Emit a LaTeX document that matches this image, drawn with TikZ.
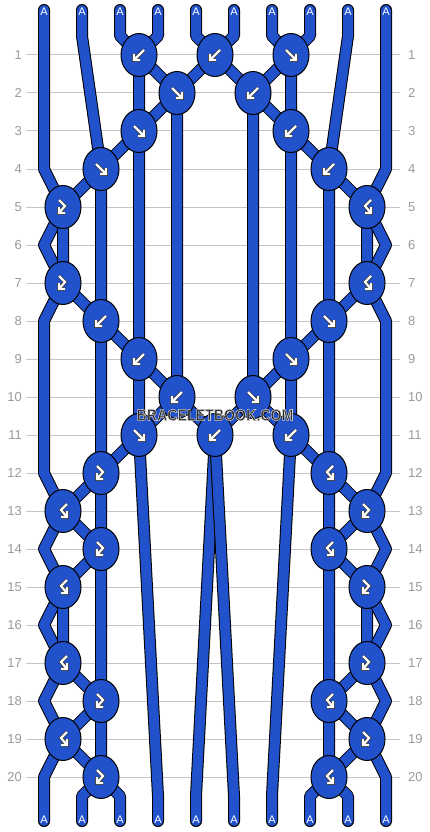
\documentclass[tikz,border=0pt]{standalone}
\usepackage{fontspec}
\setmainfont{Liberation Sans}
\usetikzlibrary{shapes.geometric}
\definecolor{strand}{HTML}{2152CC}
\definecolor{gridc}{HTML}{C4C4C4}
\definecolor{labc}{HTML}{9A9A9A}
\definecolor{wmtext}{HTML}{2E2E2E}
\pgfdeclarelayer{bg}
\pgfsetlayers{bg,main}
\tikzset{
  knot/.style={ellipse, draw=black, line width=1pt, fill=strand, minimum width=36pt, minimum height=43pt, inner sep=0pt},
  sout/.style={draw=black, line width=12pt, line cap=round, line join=round},
  sin/.style={draw=strand, line width=10pt, line cap=round, line join=round},
  gridline/.style={draw=gridc, line width=1pt},
  rowlab/.style={text=labc, font=\fontsize{13}{13}\selectfont, inner sep=0pt},
  alab/.style={text=white, font=\fontsize{11}{11}\selectfont, inner sep=0pt},
  wm/.style={font=\bfseries\fontsize{16.5}{16.5}\selectfont, inner sep=0pt, xscale=0.86},
  arwo/.style={draw=black!80, line width=3.8pt, line join=miter, line cap=butt},
  arwi/.style={draw=white, line width=2.2pt, line join=miter, line cap=butt},
  pics/fw/.style={code={
    \draw[arwo] (-5,-5)--(5,5) (-1,5)--(5,5)--(5,-1);
    \draw[arwi] (-5,-5)--(5,5) (-1,5)--(5,5)--(5,-1);}},
  pics/bw/.style={code={
    \draw[arwo] (5,-5)--(-5,5) (1,5)--(-5,5)--(-5,-1);
    \draw[arwi] (5,-5)--(-5,5) (1,5)--(-5,5)--(-5,-1);}},
  pics/fbk/.style={code={
    \draw[arwo] (-4,-7)--(2,-1)--(-4,6) (-4,0)--(-4,6)--(2,6);
    \draw[arwi] (-4,-7)--(2,-1)--(-4,6) (-4,0)--(-4,6)--(2,6);}},
  pics/bfk/.style={code={
    \draw[arwo] (4,-7)--(-2,-1)--(4,6) (4,0)--(4,6)--(-2,6);
    \draw[arwi] (4,-7)--(-2,-1)--(4,6) (4,0)--(4,6)--(-2,6);}},
}
\newcommand\strandline[1]{\draw[sout] #1; \draw[sin] #1;}
\newcommand\halotext[1]{\special{pdf:literal direct 2 Tr 0.6 w 0.8 0.8 0.8 RG}#1\special{pdf:literal direct 0 Tr}}
\begin{document}
\begin{tikzpicture}[x=1pt,y=-1pt]
\useasboundingbox (0,0) rectangle (430,832);
% positions
\foreach \i in {0,...,9} {
  \pgfmathsetmacro\xx{44+38*\i}
  \coordinate (t\i) at (\xx,10);
  \coordinate (s\i) at (\xx,36);
  \coordinate (e\i) at (\xx,796);
  \coordinate (u\i) at (\xx,821);
}
\foreach \r in {2,4,...,20} {
  \pgfmathsetmacro\yy{17+38*\r}
  \coordinate (l\r) at (44,\yy);
  \coordinate (r\r) at (386,\yy);
}
% knots
\node[knot] (k1c) at (139,55) {};  \pic at (k1c.center) {bw};
\node[knot] (k1e) at (215,55) {};  \pic at (k1e.center) {bw};
\node[knot] (k1g) at (291,55) {};  \pic at (k1g.center) {fw};
\node[knot] (k2d) at (177,93) {};  \pic at (k2d.center) {fw};
\node[knot] (k2f) at (253,93) {};  \pic at (k2f.center) {bw};
\node[knot] (k3c) at (139,131) {}; \pic at (k3c.center) {fw};
\node[knot] (k3g) at (291,131) {}; \pic at (k3g.center) {bw};
\node[knot] (k4b) at (101,169) {}; \pic at (k4b.center) {fw};
\node[knot] (k4h) at (329,169) {}; \pic at (k4h.center) {bw};
\node[knot] (k5a) at (63,207) {};  \pic at (k5a.center) {fbk};
\node[knot] (k5i) at (367,207) {}; \pic at (k5i.center) {bfk};
\node[knot] (k7a) at (63,283) {};  \pic at (k7a.center) {fbk};
\node[knot] (k7i) at (367,283) {}; \pic at (k7i.center) {bfk};
\node[knot] (k8b) at (101,321) {}; \pic at (k8b.center) {bw};
\node[knot] (k8h) at (329,321) {}; \pic at (k8h.center) {fw};
\node[knot] (k9c) at (139,359) {}; \pic at (k9c.center) {bw};
\node[knot] (k9g) at (291,359) {}; \pic at (k9g.center) {fw};
\node[knot] (k10d) at (177,397) {}; \pic at (k10d.center) {bw};
\node[knot] (k10f) at (253,397) {}; \pic at (k10f.center) {fw};
\node[knot] (k11c) at (139,435) {}; \pic at (k11c.center) {fw};
\node[knot] (k11e) at (215,435) {}; \pic at (k11e.center) {bw};
\node[knot] (k11g) at (291,435) {}; \pic at (k11g.center) {bw};
\node[knot] (k12b) at (101,473) {}; \pic at (k12b.center) {fbk};
\node[knot] (k12h) at (329,473) {}; \pic at (k12h.center) {bfk};
\node[knot] (k13a) at (63,511) {};  \pic at (k13a.center) {bfk};
\node[knot] (k13i) at (367,511) {}; \pic at (k13i.center) {fbk};
\node[knot] (k14b) at (101,549) {}; \pic at (k14b.center) {fbk};
\node[knot] (k14h) at (329,549) {}; \pic at (k14h.center) {bfk};
\node[knot] (k15a) at (63,587) {};  \pic at (k15a.center) {bfk};
\node[knot] (k15i) at (367,587) {}; \pic at (k15i.center) {fbk};
\node[knot] (k17a) at (63,663) {};  \pic at (k17a.center) {bfk};
\node[knot] (k17i) at (367,663) {}; \pic at (k17i.center) {fbk};
\node[knot] (k18b) at (101,701) {}; \pic at (k18b.center) {fbk};
\node[knot] (k18h) at (329,701) {}; \pic at (k18h.center) {bfk};
\node[knot] (k19a) at (63,739) {};  \pic at (k19a.center) {bfk};
\node[knot] (k19i) at (367,739) {}; \pic at (k19i.center) {fbk};
\node[knot] (k20b) at (101,777) {}; \pic at (k20b.center) {fbk};
\node[knot] (k20h) at (329,777) {}; \pic at (k20h.center) {bfk};
% background: grid, labels, strands
\begin{pgfonlayer}{bg}
\foreach \r in {1,...,20} {
  \pgfmathsetmacro\yy{17+38*\r}
  \draw[gridline] (26,\yy) -- (400,\yy);
  \node[rowlab, anchor=east] (ll\r) at (22,\yy) {\r};
  \node[rowlab, anchor=west] (rl\r) at (408,\yy) {\r};
}
\strandline{(t0)--(s0)--(l2)--(l4)--(k5a.center)--(l6)--(k7a.center)--(l8)--(l10)--(l12)--(k13a.center)--(l14)--(k15a.center)--(l16)--(k17a.center)--(l18)--(k19a.center)--(l20)--(e0)--(u0)}
\strandline{(t1)--(s1)--(k4b.center)--(k5a.center)--(k7a.center)--(k8b.center)--(k12b.center)--(k13a.center)--(k14b.center)--(k15a.center)--(k17a.center)--(k18b.center)--(k19a.center)--(k20b.center)--(e1)--(u1)}
\strandline{(t2)--(s2)--(k1c.center)--(k3c.center)--(k4b.center)--(k8b.center)--(k9c.center)--(k11c.center)--(k12b.center)--(k14b.center)--(k18b.center)--(k20b.center)--(e2)--(u2)}
\strandline{(t3)--(s3)--(k1c.center)--(k2d.center)--(k3c.center)--(k9c.center)--(k10d.center)--(k11c.center)--(e3)--(u3)}
\strandline{(t4)--(s4)--(k1e.center)--(k2d.center)--(k10d.center)--(k11e.center)--(e4)--(u4)}
\strandline{(t5)--(s5)--(k1e.center)--(k2f.center)--(k10f.center)--(k11e.center)--(e5)--(u5)}
\strandline{(t6)--(s6)--(k1g.center)--(k2f.center)--(k3g.center)--(k9g.center)--(k10f.center)--(k11g.center)--(e6)--(u6)}
\strandline{(t7)--(s7)--(k1g.center)--(k3g.center)--(k4h.center)--(k8h.center)--(k9g.center)--(k11g.center)--(k12h.center)--(k14h.center)--(k18h.center)--(k20h.center)--(e7)--(u7)}
\strandline{(t8)--(s8)--(k4h.center)--(k5i.center)--(k7i.center)--(k8h.center)--(k12h.center)--(k13i.center)--(k14h.center)--(k15i.center)--(k17i.center)--(k18h.center)--(k19i.center)--(k20h.center)--(e8)--(u8)}
\strandline{(t9)--(s9)--(r2)--(r4)--(k5i.center)--(r6)--(k7i.center)--(r8)--(r10)--(r12)--(k13i.center)--(r14)--(k15i.center)--(r16)--(k17i.center)--(r18)--(k19i.center)--(r20)--(e9)--(u9)}
\end{pgfonlayer}
% strand end labels
\foreach \i in {0,...,9} {
  \pgfmathsetmacro\xx{44+38*\i}
  \node[alab] (at\i) at (\xx,12) {A};
  \node[alab] (ab\i) at (\xx,820) {A};
}
% watermark
\node[wm, text=wmtext] (wm) at (215,415) {\halotext{BRACELETBOOK.COM}};
\end{tikzpicture}
\end{document}
